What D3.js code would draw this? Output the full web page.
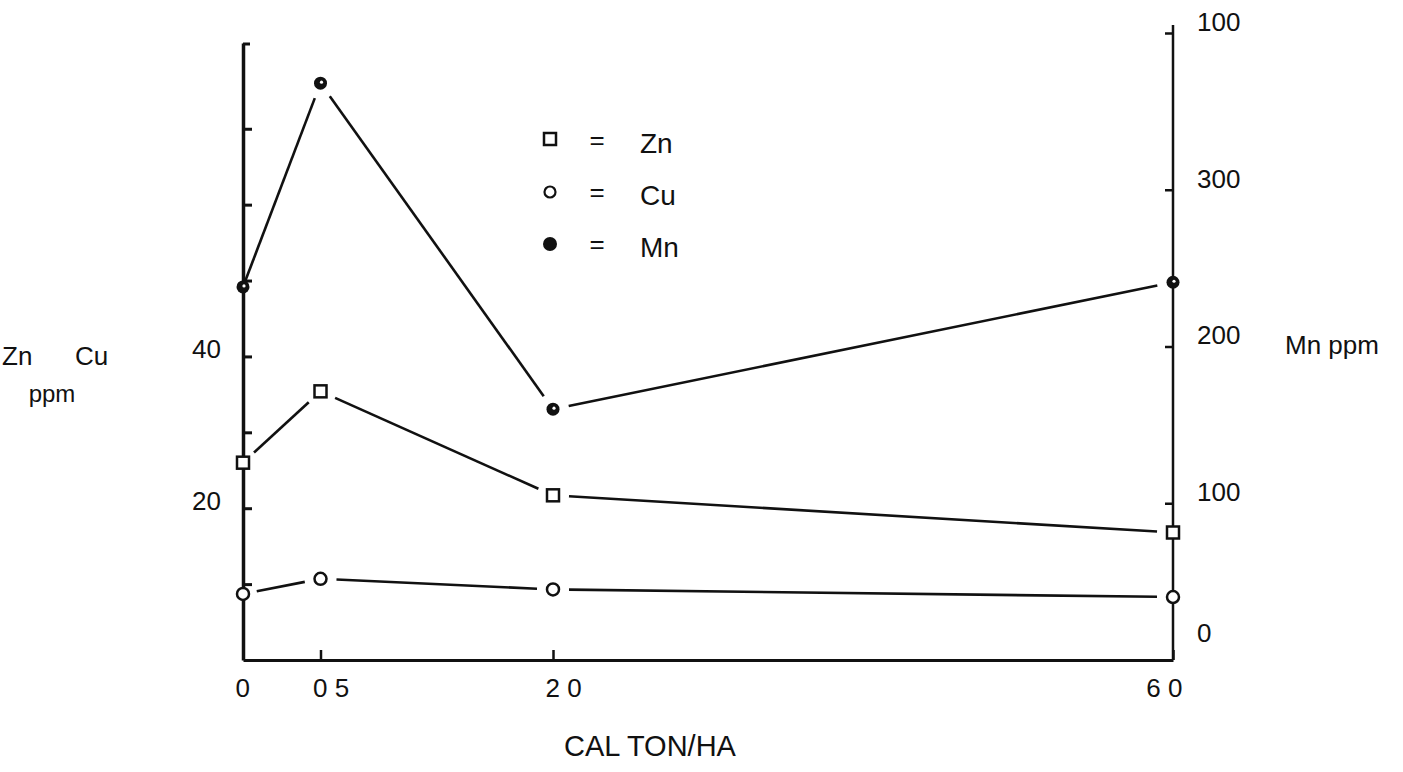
<!DOCTYPE html>
<html>
<head>
<meta charset="utf-8">
<script src="https://cdn.jsdelivr.net/npm/d3@7"></script>
<style>
  body { margin: 0; background: #fff; }
  svg text { font-family: "Liberation Sans", Arial, sans-serif; fill: #111; }
</style>
</head>
<body>
<svg id="chart" width="1403" height="772"></svg>
<script>
"use strict";

// data
var doses = [ 0, 0.5, 2, 6 ];
var doseLabels = [ "0", "0 5", "2 0", "6 0" ];
var zn = [ 26, 35.4, 21.7, 16.8 ];
var cu = [ 8.7, 10.7, 9.3, 8.3 ];
var mn = [ 238, 368, 160, 241 ];

var leftTicks = [ 10, 20, 30, 40, 50, 60, 70 ];
var leftTickLabels = [ "", "20", "", "40", "", "", "" ];
var rightTicks = [ 0, 100, 200, 300, 400 ];
var rightTickLabels = [ "0", "100", "200", "300", "100" ];

var legendNames = [ "Zn", "Cu", "Mn" ];

var svg = d3.select("#chart");

var x = d3.scaleLinear().domain([ 0, 6 ]).range([ 243, 1173 ]);
var yL = d3.scaleLinear().domain([ 0, 81.3 ]).range([ 660, 43 ]);
var yR = d3.scaleLinear().domain([ 0, 400 ]).range([ 660, 33 ]);

var series = [
  { name: "Zn", values: zn, y: yL, mark: "square", firstGap: 15 },
  { name: "Cu", values: cu, y: yL, mark: "open",   firstGap: 14 },
  { name: "Mn", values: mn, y: yR, mark: "dot",    firstGap: 2 }
];

// lines, broken a little short of each marker like the hand drawn original
var gap = 16;
series.forEach(function(s) {
  var pts = doses.map(function(d, i) { return [ x(d), s.y(s.values[i]) ]; });
  for (var i = 0; i < pts.length - 1; i++) {
    var p = pts[i], q = pts[i + 1];
    var dx = q[0] - p[0], dy = q[1] - p[1];
    var len = Math.sqrt(dx * dx + dy * dy);
    var g0 = i === 0 ? s.firstGap : gap;
    svg.append("line")
      .attr("x1", p[0] + dx * g0 / len)
      .attr("y1", p[1] + dy * g0 / len)
      .attr("x2", q[0] - dx * gap / len)
      .attr("y2", q[1] - dy * gap / len)
      .style("stroke", "#111")
      .style("stroke-width", 2.6);
  }
});

// left axis (Zn, Cu)
var gLeft = svg.append("g")
  .attr("transform", "translate(" + x(0) + ",0)")
  .call(d3.axisLeft(yL)
    .tickValues(leftTicks)
    .tickSize(-9)
    .tickSizeOuter(0)
    .tickPadding(22)
    .tickFormat(function(d, i) { return leftTickLabels[i]; }));
gLeft.select(".domain").style("stroke", "#111").style("stroke-width", 3.5);
gLeft.selectAll(".tick line").style("stroke", "#111").style("stroke-width", 3);
gLeft.selectAll(".tick text")
  .attr("dy", "0.05em")
  .style("font-size", "26px")
  .style("font-family", "Liberation Sans, Arial, sans-serif");
// little hook at the top of the left axis
svg.append("line")
  .attr("x1", x(0)).attr("x2", x(0) + 7)
  .attr("y1", yL(81.3) + 1).attr("y2", yL(81.3) + 1)
  .style("stroke", "#111").style("stroke-width", 3);

// right axis (Mn)
var gRight = svg.append("g")
  .attr("transform", "translate(" + x(6) + ",0)")
  .call(d3.axisRight(yR)
    .tickValues(rightTicks)
    .tickSize(-8)
    .tickSizeOuter(0)
    .tickPadding(24)
    .tickFormat(function(d, i) { return rightTickLabels[i]; }));
gRight.select(".domain").style("stroke", "#111").style("stroke-width", 2.5)
  .attr("d", "M0," + (yR(400) - 8) + "V" + yR(0));
gRight.selectAll(".tick line").style("stroke", "#111").style("stroke-width", 2.5);
gRight.selectAll(".tick text")
  .attr("dy", function(d) { return d === 0 ? "-0.7em" : "-0.1em"; })
  .style("font-size", "26px")
  .style("font-family", "Liberation Sans, Arial, sans-serif");

// bottom axis (dose)
var gBottom = svg.append("g")
  .attr("transform", "translate(0," + yL(0) + ")")
  .call(d3.axisBottom(x)
    .tickValues(doses)
    .tickSize(-10)
    .tickSizeOuter(0)
    .tickPadding(14)
    .tickFormat(function(d, i) { return doseLabels[i]; }));
gBottom.select(".domain").style("stroke", "#111").style("stroke-width", 3);
gBottom.selectAll(".tick line").style("stroke", "#111").style("stroke-width", 2.5);
gBottom.selectAll(".tick text")
  .attr("text-anchor", function(d) { return d === 6 ? "end" : "start"; })
  .attr("dx", function(d) { return d === 6 ? 9 : -8; })
  .attr("dy", "0.9em")
  .style("font-size", "26px")
  .style("font-family", "Liberation Sans, Arial, sans-serif");

// markers
series.forEach(function(s) {
  var g = svg.append("g");
  doses.forEach(function(d, i) {
    var cx = x(d), cy = s.y(s.values[i]);
    if (s.mark === "square") {
      g.append("rect")
        .attr("x", cx - 6).attr("y", cy - 6)
        .attr("width", 12).attr("height", 12)
        .style("fill", "#fff").style("stroke", "#111").style("stroke-width", 2.5);
    } else if (s.mark === "open") {
      g.append("circle")
        .attr("cx", cx).attr("cy", cy).attr("r", 6)
        .style("fill", "#fff").style("stroke", "#111").style("stroke-width", 2.5);
    } else {
      g.append("circle")
        .attr("cx", cx).attr("cy", cy).attr("r", 6.5)
        .style("fill", "#111");
      g.append("circle")
        .attr("cx", cx + 1).attr("cy", cy - 1).attr("r", 1.6)
        .style("fill", "#fff");
    }
  });
});

// legend
var legend = svg.append("g");
legendNames.forEach(function(name, i) {
  var ly = 140 + i * 52;
  if (i === 0) {
    legend.append("rect")
      .attr("x", 544).attr("y", ly - 7).attr("width", 12).attr("height", 12)
      .style("fill", "#fff").style("stroke", "#111").style("stroke-width", 2.5);
  } else if (i === 1) {
    legend.append("circle")
      .attr("cx", 550).attr("cy", ly).attr("r", 5.5)
      .style("fill", "#fff").style("stroke", "#111").style("stroke-width", 2.2);
  } else {
    legend.append("circle")
      .attr("cx", 550).attr("cy", ly).attr("r", 7)
      .style("fill", "#111");
  }
  legend.append("text")
    .attr("x", 597).attr("y", ly + 9)
    .attr("text-anchor", "middle")
    .style("font-size", "26px")
    .text("=");
  legend.append("text")
    .attr("x", 640).attr("y", ly + 13)
    .style("font-size", "28px")
    .text(name);
});

// axis titles
svg.append("text")
  .attr("x", 2).attr("y", 365)
  .style("font-size", "26px")
  .text("Zn");
svg.append("text")
  .attr("x", 75).attr("y", 365)
  .style("font-size", "26px")
  .text("Cu");
svg.append("text")
  .attr("x", 52).attr("y", 402)
  .attr("text-anchor", "middle")
  .style("font-size", "24px")
  .text("ppm");

svg.append("text")
  .attr("x", 1285).attr("y", 354)
  .style("font-size", "26px")
  .text("Mn  ppm");

svg.append("text")
  .attr("x", 650).attr("y", 756)
  .attr("text-anchor", "middle")
  .style("font-size", "29px")
  .text("CAL TON/HA");
</script>
</body>
</html>
